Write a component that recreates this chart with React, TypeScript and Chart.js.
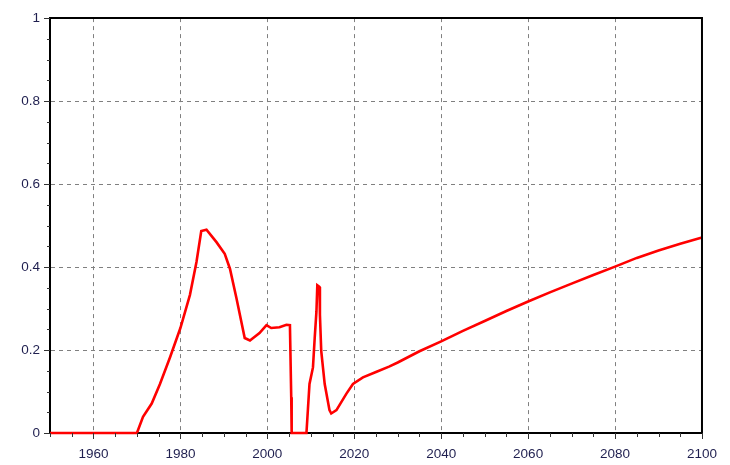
import React, { useEffect, useRef } from "react";
import { Chart, registerables } from "chart.js";

Chart.register(...registerables);

const years = [
  1950, 1970, 1971.4, 1973.4, 1975.3, 1977.6, 1980, 1982.2, 1983.7, 1984.8, 1986,
  1988.3, 1990.2, 1991.4, 1992.9, 1994.8, 1996, 1998.2, 1999.8, 2000.9, 2002.8,
  2004.4, 2005.2, 2005.5, 2005.6, 2009, 2009.7, 2010.5, 2010.9, 2011.3, 2011.5,
  2012, 2012.1, 2012.4, 2013.2, 2014.3, 2014.7, 2015.9, 2018.2, 2019.7, 2022,
  2025, 2028, 2030, 2035, 2040, 2045, 2050, 2055, 2060, 2065, 2070, 2075, 2080, 2085,
  2090, 2095, 2100,
];
const values = [
  0, 0, 0.039, 0.071, 0.118, 0.182, 0.253, 0.333, 0.412, 0.487, 0.49,
  0.46, 0.432, 0.396, 0.325, 0.229, 0.223, 0.241, 0.26, 0.253, 0.255,
  0.261, 0.26, 0.086, 0, 0, 0.118, 0.158, 0.229, 0.293, 0.356,
  0.352, 0.285, 0.198, 0.118, 0.055, 0.047, 0.055, 0.095, 0.118, 0.134,
  0.147, 0.16, 0.17, 0.197, 0.221, 0.246, 0.27, 0.294, 0.317, 0.339, 0.36, 0.381, 0.401, 0.422,
  0.44, 0.456, 0.471,
];
const xTickValues = [1960, 1980, 2000, 2020, 2040, 2060, 2080, 2100];
const yTickValues = [0, 0.2, 0.4, 0.6, 0.8, 1];
const xMinor = 5;
const yMinor = 0.05;

const frameTicks = {
  id: "frameTicks",
  afterDraw(chart: any) {
    const { ctx, chartArea: a, scales } = chart;
    const xs = scales.x;
    const ys = scales.y;
    ctx.save();
    ctx.strokeStyle = "#000";
    ctx.lineWidth = 2;
    ctx.beginPath();
    ctx.moveTo(a.left, a.top);
    ctx.lineTo(a.right, a.top);
    ctx.lineTo(a.right, a.bottom);
    ctx.stroke();
    ctx.lineWidth = 1;
    ctx.strokeStyle = "#333";
    ctx.beginPath();
    for (let v = 1950; v <= 2100; v += xMinor) {
      const px = Math.round(xs.getPixelForValue(v)) + 0.5;
      const major = xTickValues.includes(v);
      ctx.moveTo(px, a.bottom);
      ctx.lineTo(px, a.bottom + (major ? 6 : 4));
    }
    for (let i = 0; i <= 20; i++) {
      const v = i * yMinor;
      const py = Math.round(ys.getPixelForValue(v)) + 0.5;
      const major = i % 4 === 0;
      ctx.moveTo(a.left, py);
      ctx.lineTo(a.left - (major ? 6 : 3), py);
    }
    ctx.stroke();
    ctx.restore();
  },
};

export default function App() {
  const ref = useRef<HTMLCanvasElement>(null);
  useEffect(() => {
    const pts = years.map((x, i) => ({ x, y: values[i] }));
    const font = { family: "'Liberation Sans', Arial, sans-serif", size: 13.5 };
    const chart = new Chart(ref.current!, {
      type: "line",
      data: {
        datasets: [
          {
            data: pts,
            borderColor: "#ff0000",
            borderWidth: 2.6,
            pointRadius: 0,
            tension: 0,
            clip: 4,
          } as any,
        ],
      },
      options: {
        animation: false,
        responsive: false,
        layout: { padding: { top: 12, right: 27, left: 0, bottom: 0 } },
        plugins: { legend: { display: false }, tooltip: { enabled: false } },
        scales: {
          x: {
            type: "linear",
            min: 1950,
            max: 2100,
            afterBuildTicks: (s: any) => {
              s.ticks = xTickValues.map((v) => ({ value: v }));
            },
            afterFit: (s: any) => {
              s.height = 32;
            },
            grid: { color: "#808080", lineWidth: 1, drawTicks: false },
            border: { color: "#000", width: 2, dash: [4, 4] },
            ticks: {
              autoSkip: false,
              maxRotation: 0,
              padding: 13,
              color: "#1f1f4f",
              font,
              callback: (v: any) => String(v),
            },
          },
          y: {
            min: 0,
            max: 1,
            afterBuildTicks: (s: any) => {
              s.ticks = yTickValues.map((v) => ({ value: v }));
            },
            afterFit: (s: any) => {
              s.width = 50;
            },
            grid: { color: "#808080", lineWidth: 1, drawTicks: false },
            border: { color: "#000", width: 2, dash: [4, 4] },
            ticks: {
              padding: 10,
              color: "#1f1f4f",
              font,
              callback: (v: any) => String(Number(Number(v).toFixed(2))),
            },
          },
        },
      },
      plugins: [frameTicks],
    });
    return () => chart.destroy();
  }, []);
  return (
    <div style={{ position: "absolute", left: 0, top: 0, width: 730, height: 465, background: "#fff" }}>
      <canvas ref={ref} width={730} height={465} />
    </div>
  );
}
